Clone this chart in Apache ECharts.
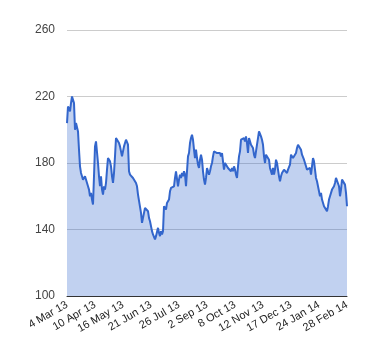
<!DOCTYPE html>
<html>
<head>
<meta charset="utf-8">
<script src="https://cdn.jsdelivr.net/npm/echarts@6/dist/echarts.min.js"></script>
<style>html,body{margin:0;padding:0;background:#fff}#c{width:380px;height:360px}</style>
</head>
<body>
<div id="c"></div>
<script>
var tickLabels = ['4 Mar 13','10 Apr 13','16 May 13','21 Jun 13','26 Jul 13','2 Sep 13','8 Oct 13','12 Nov 13','17 Dec 13','24 Jan 14','28 Feb 14'];
var yTicks = [100, 140, 180, 220, 260];
var prices = [
204,214,215,211,216,220,220,216,200,204,205,199,188,178,174,172,170,171,172,173,172,166,164,160,162,158,155,172,190,193,194,180,172,166,172,164,161,166,164,168,176,183,182,181,178,172,168,174,184,195,196,194,192,190,187,184,187,
190,192,194,195,191,175,173,174,173,171,172,171,168,166,161,160,160,150,144,145,150,153,153,152,151,147,145,144,139,137,136,134,136,135,141,138,136,139,137,139,154,155,152,156,155,158,163,165,165,166,166,171,175,174,166,170,
173,171,174,172,175,173,166,165,184,186,192,195,197,194,188,183,188,183,179,177,182,185,182,175,170,167,171,177,176,173,175,178,180,184,187,187,187,186,186,185,186,184,186,181,176,180,181,179,177,176,176,175,177,175,178,176,
173,171,178,184,187,194,193,193,195,193,196,192,186,195,193,191,191,189,185,183,187,191,195,199,200,196,194,191,184,180,185,184,186,182,177,176,173,177,173,176,182,180,176,172,169,172,174,175,176,175,175,174,176,176,179,185,
185,183,183,182,186,189,191,191,190,188,185,184,182,181,178,176,177,176,177,173,178,183,181,176,171,169,166,163,160,162,158,158,154,153,155,151,154,158,160,159,164,165,166,168,171,172,171,166,160,164,170,171,169,167,162,154
];
var step = (prices.length - 1) / (tickLabels.length - 1);
var seriesData = prices.map(function (v, i) { return [i, v]; });
var chart = echarts.init(document.getElementById('c'), null, {renderer: 'canvas'});
chart.setOption({
  animation: false,
  backgroundColor: '#fff',
  grid: {left: 67, right: 33, top: 30, bottom: 64},
  xAxis: {
    type: 'value',
    min: 0,
    max: prices.length - 1,
    interval: step,
    axisLine: {show: true, lineStyle: {color: '#333', width: 1}},
    axisTick: {show: false},
    splitLine: {show: false},
    axisLabel: {
      rotate: 30,
      margin: 8,
      color: '#222',
      fontSize: 11,
      fontFamily: 'Arial, "Liberation Sans", sans-serif',
      showMinLabel: true,
      showMaxLabel: true,
      formatter: function (v) { var k = Math.round(v / step); return tickLabels[k] || ''; }
    }
  },
  yAxis: {
    type: 'value',
    min: yTicks[0],
    max: yTicks[yTicks.length - 1],
    interval: yTicks[1] - yTicks[0],
    axisLine: {show: false},
    axisTick: {show: false},
    splitLine: {show: true, lineStyle: {color: '#cccccc', width: 1}},
    axisLabel: {
      color: '#444',
      fontSize: 12,
      margin: 12,
      fontFamily: 'Arial, "Liberation Sans", sans-serif'
    }
  },
  series: [{
    type: 'line',
    data: seriesData,
    showSymbol: false,
    symbol: 'none',
    lineStyle: {color: '#3366cc', width: 2},
    areaStyle: {color: '#3366cc', opacity: 0.3},
    itemStyle: {color: '#3366cc'}
  }]
});
</script>
</body>
</html>
